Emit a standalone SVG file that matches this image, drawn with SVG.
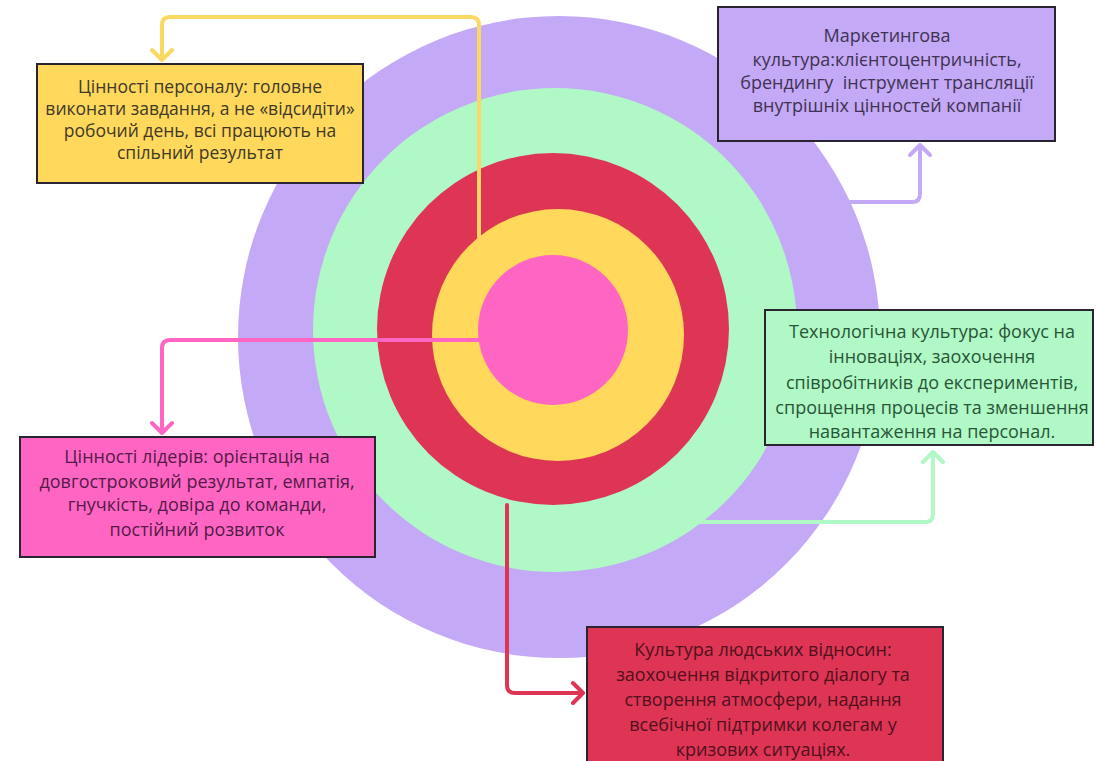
<svg xmlns="http://www.w3.org/2000/svg" width="1096" height="761" viewBox="0 0 1096 761">
<style>
.box{stroke:#2a2430;stroke-width:2}
.t{font-family:"Open Sans","Noto Sans",sans-serif;font-size:18px;text-anchor:middle}
.c{fill:none;stroke-width:4;stroke-linecap:round;stroke-linejoin:round}
</style>
<rect width="1096" height="761" fill="#ffffff"/>
<g id="rings">
<circle cx="559" cy="337" r="321" fill="#C4A9F6"/>
<circle cx="555" cy="330" r="242" fill="#B0F8C6"/>
<circle cx="553" cy="329" r="176" fill="#DE3554"/>
<circle cx="558" cy="335" r="126" fill="#FFD85C"/>
<circle cx="553" cy="330" r="75" fill="#FF66C4"/>
</g>
<g id="connectors">
<path class="c" stroke="#FAD862" d="M479 237 V25 Q479 17 471 17 H170 Q162 17 162 25 V60 M152 50 L162 60 L172 50"/>
<path class="c" stroke="#C4A9F6" d="M850 202 H912 Q920 202 920 194 V145 M910 155 L920 145 L930 155"/>
<path class="c" stroke="#FF66C4" d="M478 340 H170 Q162 340 162 348 V433 M152 423 L162 433 L172 423"/>
<path class="c" stroke="#B0F8C6" d="M700 522 H925 Q933 522 933 514 V452 M923 462 L933 452 L943 462"/>
<path class="c" stroke="#DE3554" d="M507 505 V685 Q507 693 515 693 H583 M573 683 L583 693 L573 703"/>
</g>
<g id="n-personnel">
<rect class="box" x="37" y="64" width="326" height="119" fill="#FFD85C"/>
<text class="t" fill="#403828" style="font-size:17.5px"><tspan x="200" y="93">Цінності персоналу: головне</tspan><tspan x="200" y="115">виконати завдання, а не «відсидіти»</tspan><tspan x="200" y="137">робочий день, всі працюють на</tspan><tspan x="200" y="159">спільний результат</tspan></text>
</g>
<g id="n-marketing">
<rect class="box" x="718" y="7" width="337" height="134" fill="#C4A9F6"/>
<text class="t" fill="#3e3452" style="white-space:pre"><tspan x="887" y="42">Маркетингова</tspan><tspan x="887" y="66">культура:клієнтоцентричність,</tspan><tspan x="887" y="89">брендингу  інструмент трансляції</tspan><tspan x="887" y="112">внутрішніх цінностей компанії</tspan></text>
</g>
<g id="n-tech">
<rect class="box" x="765" y="310" width="328" height="135" fill="#B0F8C6"/>
<text class="t" fill="#275636"><tspan x="932" y="338">Технологічна культура: фокус на</tspan><tspan x="932" y="363">інноваціях, заохочення</tspan><tspan x="932" y="389">співробітників до експериментів,</tspan><tspan x="932" y="414">спрощення процесів та зменшення</tspan><tspan x="932" y="438">навантаження на персонал.</tspan></text>
</g>
<g id="n-leaders">
<rect class="box" x="20" y="437" width="355" height="120" fill="#FF66C4"/>
<text class="t" fill="#541a47"><tspan x="197" y="463">Цінності лідерів: орієнтація на</tspan><tspan x="197" y="488">довгостроковий результат, емпатія,</tspan><tspan x="197" y="511">гнучкість, довіра до команди,</tspan><tspan x="197" y="536">постійний розвиток</tspan></text>
</g>
<g id="n-human">
<rect class="box" x="587" y="627" width="356" height="136" fill="#DE3554"/>
<text class="t" fill="#50101e"><tspan x="763" y="656">Культура людських відносин:</tspan><tspan x="763" y="681">заохочення відкритого діалогу та</tspan><tspan x="763" y="706">створення атмосфери, надання</tspan><tspan x="763" y="731">всебічної підтримки колегам у</tspan><tspan x="763" y="756">кризових ситуаціях.</tspan></text>
</g>
</svg>
